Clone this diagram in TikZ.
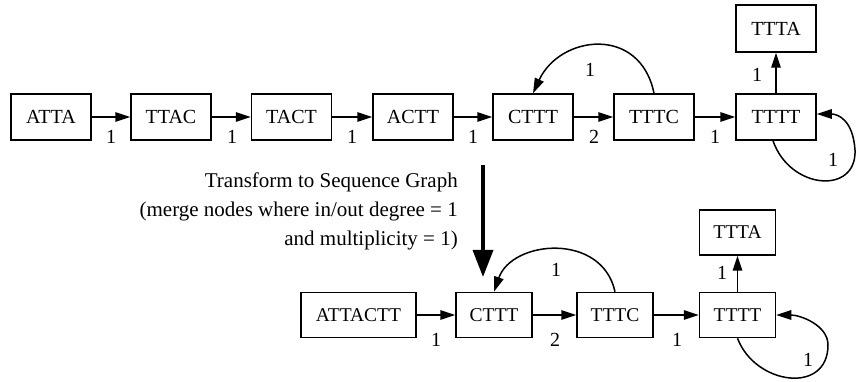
\documentclass[tikz,border=0pt]{standalone}
\usepackage{fontspec}
\setmainfont{Liberation Serif}
\usetikzlibrary{arrows.meta}
\begin{document}
\begin{tikzpicture}[x=1pt,y=-1pt,
  box/.style={draw, line width=1.5pt, minimum height=46pt, minimum width=80pt, inner sep=0pt, font=\fontsize{20}{22}\selectfont},
  sbox/.style={box, minimum height=45pt, minimum width=76pt, font=\fontsize{19.5}{22}\selectfont},
  edge/.style={line width=1.5pt, -{Triangle[length=15pt,width=9.5pt]}},
  lab/.style={inner sep=0pt, font=\fontsize{20}{22}\selectfont},
  bigarrow/.style={line width=3.5pt, -{Triangle[length=27pt,width=20pt]}}]
\useasboundingbox (0,0) rectangle (857,382);
% top graph
\node[box] (atta) at (51,117) {ATTA};
\node[box] (ttac) at (171,117) {TTAC};
\node[box] (tact) at (291.5,117) {TACT};
\node[box] (actt) at (413,117) {ACTT};
\node[box] (cttt) at (533,117) {CTTT};
\node[box] (tttc) at (654,117) {TTTC};
\node[box] (tttt) at (776,117) {TTTT};
\node[box, minimum height=47pt] (ttta) at (776,28.5) {TTTA};
\draw[edge] (atta) -- (ttac);
\draw[edge] (ttac) -- (tact);
\draw[edge] (tact) -- (actt);
\draw[edge] (actt) -- (cttt);
\draw[edge] (cttt) -- (tttc);
\draw[edge] (tttc) -- (tttt);
\draw[edge] (tttt) -- (ttta);
\draw[edge] (tttc.north) .. controls (640,25) and (560,35) .. (cttt.north);
\draw[edge] ([xshift=-3pt]tttt.south) .. controls (790,190) and (857,195) .. (855,150) .. controls (853,120) and (838,114) .. ([yshift=3pt]tttt.east);
\node[lab] (l1) at (111,137) {1};
\node[lab] (l2) at (232,137) {1};
\node[lab] (l3) at (352,137) {1};
\node[lab] (l4) at (473,137) {1};
\node[lab] (l5) at (594,137) {2};
\node[lab] (l6) at (715,137) {1};
\node[lab] (l7) at (757,75) {1};
\node[lab] (l8) at (590,70) {1};
\node[lab] (l9) at (833,160) {1};
% transform text and arrow
\node[inner sep=0pt, anchor=east, align=right, font=\fontsize{21}{29}\selectfont] (txt) at (458,211) {Transform to Sequence Graph\\(merge nodes where in/out degree = 1\\and multiplicity = 1)};
\coordinate (bs) at (483,165);
\coordinate (be) at (483,277);
\draw[bigarrow] (bs) -- (be);
% bottom graph
\node[sbox, minimum width=115pt] (attactt) at (358.5,315) {ATTACTT};
\node[sbox] (cttt2) at (494,315) {CTTT};
\node[sbox] (tttc2) at (615,315) {TTTC};
\node[sbox] (tttt2) at (737.5,315) {TTTT};
\node[sbox] (ttta2) at (737.5,232.5) {TTTA};
\draw[edge] (attactt) -- (cttt2);
\draw[edge] (cttt2) -- (tttc2);
\draw[edge] (tttc2) -- (tttt2);
\draw[edge] (tttt2) -- (ttta2);
\draw[edge] (tttc2.north) .. controls (602,232) and (512,240) .. (cttt2.north);
\draw[edge] (tttt2.south) .. controls (755,385) and (828,395) .. (828,345) .. controls (828,325) and (800,315) .. (tttt2.east);
\node[lab] (m1) at (436,340) {1};
\node[lab] (m2) at (555,340) {2};
\node[lab] (m3) at (677,340) {1};
\node[lab] (m4) at (722,273) {1};
\node[lab] (m5) at (556,270) {1};
\node[lab] (m6) at (808,360) {1};
\end{tikzpicture}
\end{document}
